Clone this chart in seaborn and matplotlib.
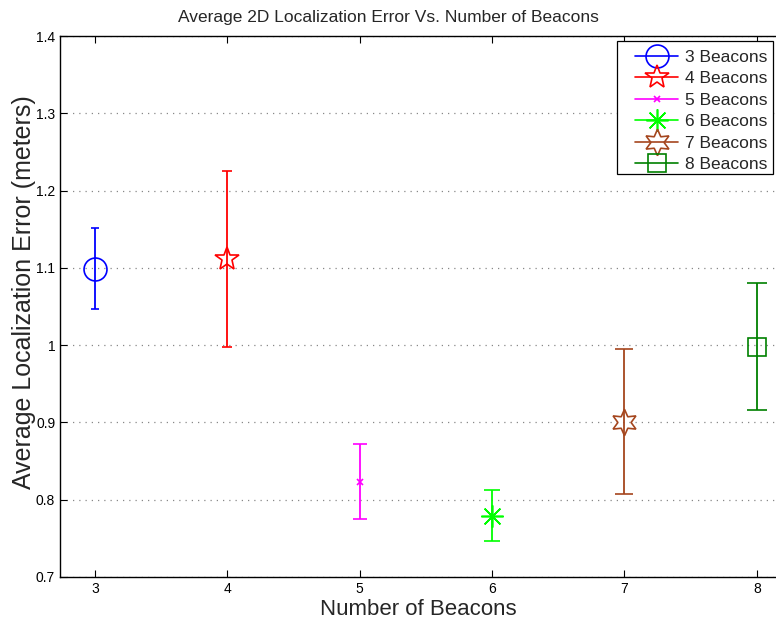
import matplotlib
matplotlib.use("Agg")
import matplotlib.pyplot as plt
from matplotlib.lines import Line2D
from matplotlib.patches import Rectangle
import seaborn as sns
import pandas as pd

# ---- data ----
beacons = [3, 4, 5, 6, 7, 8]
labels = ["3 Beacons", "4 Beacons", "5 Beacons", "6 Beacons", "7 Beacons", "8 Beacons"]
mean_err = [1.099, 1.111, 0.823, 0.779, 0.900, 0.998]
upper_err = [1.151, 1.225, 0.872, 0.812, 0.995, 1.080]
lower_err = [1.047, 0.998, 0.775, 0.746, 0.807, 0.916]
x_ticks = [3, 4, 5, 6, 7, 8]
y_ticks = [0.7, 0.8, 0.9, 1.0, 1.1, 1.2, 1.3, 1.4]
y_tick_labels = ["0.7", "0.8", "0.9", "1", "1.1", "1.2", "1.3", "1.4"]

colors = ["#0000FF", "#FF0000", "#FF00FF", "#00FF00", "#A5461E", "#008000"]
markers = ["o", "*", "x", (8, 2, 0), (6, 1, 0), "s"]
msizes = [16.5, 18, 4, 16, 19, 13]
capsizes = [2.9, 3.8, 4.7, 5.8, 6.5, 7.3]

df = pd.DataFrame({"beacons": beacons, "label": labels, "mean": mean_err,
                   "upper": upper_err, "lower": lower_err})

sns.set_style("ticks")
plt.rcParams["font.family"] = ["Liberation Sans", "DejaVu Sans"]

fig = plt.figure(figsize=(7.76, 6.27), dpi=100)
ax = fig.add_axes([60 / 776, 1 - 577 / 627, 1 - 60 / 776, (577 - 36) / 627])

handles = []
for i, row in df.iterrows():
    yerr = [[row["mean"] - row["lower"]], [row["upper"] - row["mean"]]]
    ax.errorbar([row["beacons"]], [row["mean"]], yerr=yerr, color=colors[i],
                marker=markers[i], markersize=msizes[i], markerfacecolor="none",
                markeredgecolor=colors[i], markeredgewidth=1.2,
                capsize=capsizes[i], capthick=1.3, elinewidth=1.3, linestyle="none")
    handles.append(Line2D([0], [0], color=colors[i], lw=1.2, marker=markers[i],
                          markersize=msizes[i], markerfacecolor="none",
                          markeredgecolor=colors[i], markeredgewidth=1.2))

ax.set_xlim(2.735, 8.145)
ax.set_ylim(0.7, 1.4)
ax.set_xticks(x_ticks)
ax.set_xticklabels([str(t) for t in x_ticks])
ax.set_yticks(y_ticks)
ax.set_yticklabels(y_tick_labels)
ax.tick_params(direction="in", top=True, right=False, labelsize=10, length=5,
               width=0.8, colors="black")
ax.yaxis.grid(True, linestyle=(0, (1, 4)), color="#888888", linewidth=0.9)
ax.xaxis.grid(False)
for s in ["left", "bottom", "top"]:
    ax.spines[s].set_color("black")
    ax.spines[s].set_linewidth(1.0)
ax.spines["right"].set_visible(False)

ax.set_title("Average 2D Localization Error Vs. Number of Beacons", fontsize=12.5,
             pad=10, x=(388 - 60) / 716)
ax.set_xlabel("Number of Beacons", fontsize=16)
ax.set_ylabel("Average Localization Error (meters)", fontsize=18)
ax.xaxis.set_label_coords(0.5, -0.041)
ax.yaxis.set_label_coords(-0.033, 0.527)

# legend box (MATLAB style, wider left padding)
box = Rectangle((617 / 776, 1 - 174 / 627), 156 / 776, 133 / 627,
                transform=fig.transFigure, facecolor="white", edgecolor="black",
                linewidth=0.9, zorder=4, clip_on=False)
ax.add_artist(box)
leg = ax.legend(handles, labels, loc="upper right", bbox_to_anchor=(0.9958, 0.984),
                fontsize=12.5, frameon=False, handlelength=2.5, borderpad=0.3,
                labelspacing=0.36, handletextpad=0.4, borderaxespad=0.0)
leg.set_zorder(5)

fig.savefig("out.png", dpi=100)
